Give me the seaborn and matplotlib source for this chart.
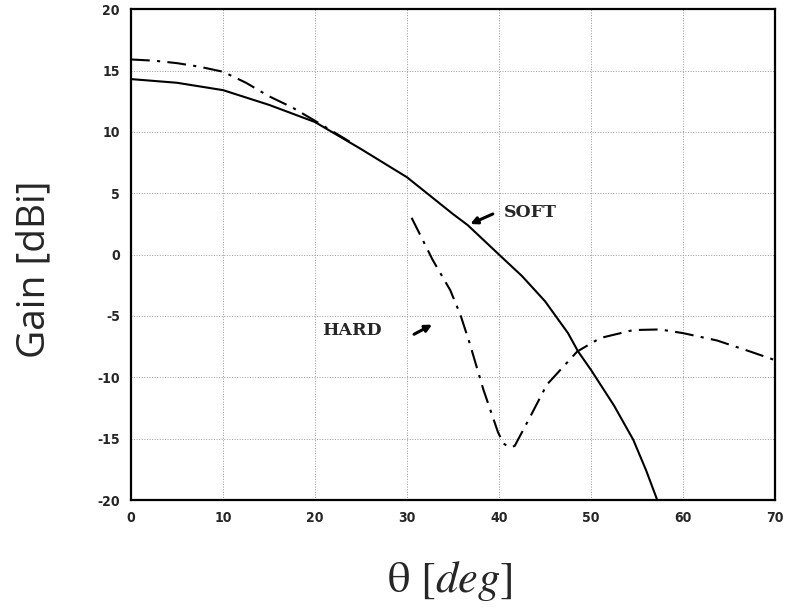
import pandas as pd
import matplotlib.pyplot as plt
import seaborn as sns

sns.set_style('white')
plt.rcParams['mathtext.fontset'] = 'stix'
plt.rcParams['axes.unicode_minus'] = False

# SOFT horn gain (solid)
soft_theta = [0, 5, 10, 15, 17.5, 20, 25, 30, 35, 36.6, 40, 42.5, 45, 47.5, 48.6,
              50, 52.5, 54.6, 56, 57.2]
soft_gain = [14.3, 14.0, 13.4, 12.2, 11.5, 10.8, 8.6, 6.3, 3.3, 2.4, 0.0, -1.75, -3.8,
             -6.4, -7.9, -9.4, -12.3, -15.1, -17.6, -20.0]

# HARD horn gain (dash-dot), two pieces
hard_theta_1 = [0, 2.5, 5, 7.5, 10, 12.5, 15, 17.5, 20, 22, 24]
hard_gain_1 = [15.9, 15.8, 15.6, 15.3, 14.9, 14.0, 12.9, 12.0, 10.9, 10.0, 9.1]
hard_theta_2 = [30.5, 32.8, 34.7, 35.8, 36.8, 38.3, 39.9, 40.5, 41.1, 41.7, 43.4, 45.2,
                48.5, 51, 54.6, 57.5, 60, 63.7, 67.3, 70]
hard_gain_2 = [3.0, -0.45, -2.9, -4.9, -7.2, -11.0, -14.5, -15.4, -15.7, -15.6, -13.2, -10.6,
               -7.9, -6.8, -6.15, -6.1, -6.4, -7.0, -7.9, -8.6]

x_ticks = [0, 10, 20, 30, 40, 50, 60, 70]
y_ticks = [-20, -15, -10, -5, 0, 5, 10, 15, 20]

soft = pd.DataFrame({'theta': soft_theta, 'gain': soft_gain})
hard = pd.DataFrame({
    'theta': hard_theta_1 + hard_theta_2,
    'gain': hard_gain_1 + hard_gain_2,
    'seg': [1] * len(hard_theta_1) + [2] * len(hard_theta_2),
})

fig = plt.figure(figsize=(7.86, 6.10), dpi=100)
ax = fig.add_axes([0.1667, 0.1803, 0.8193, 0.8047])

sns.lineplot(data=soft, x='theta', y='gain', color='black', lw=1.5, ax=ax)
sns.lineplot(data=hard, x='theta', y='gain', units='seg', estimator=None,
             color='black', lw=1.5, dashes=False, ax=ax)
ax.lines[-1].set_dashes([9, 3.5, 1.5, 3.5])
ax.lines[-2].set_dashes([9, 3.5, 1.5, 3.5])

ax.set_xlim(0, 70)
ax.set_ylim(-20, 20)
ax.set_xticks(x_ticks)
ax.set_yticks(y_ticks)
ax.grid(True, linestyle=':', color='#9a9a9a', linewidth=0.7)
for s in ax.spines.values():
    s.set_color('black')
    s.set_linewidth(1.6)
ax.tick_params(length=0, pad=8)
for lab in ax.get_xticklabels() + ax.get_yticklabels():
    lab.set_family('DejaVu Sans')
    lab.set_stretch('condensed')
    lab.set_weight('bold')
    lab.set_fontsize(10)

ax.set_ylabel('Gain [dBi]', fontsize=28, family='Open Sans')
ax.yaxis.set_label_coords(-0.12, 0.47)
ax.set_xlabel('θ [$deg$]', fontsize=32, family='STIXGeneral')
ax.xaxis.set_label_coords(0.495, -0.12)

# curve labels
ax.text(43.4, 3.4, 'SOFT', fontsize=12.5, weight='bold', family='DejaVu Serif',
        ha='center', va='center')
ax.annotate('', xy=(36.6, 2.4), xytext=(39.6, 3.4),
            arrowprops=dict(arrowstyle='-|>', color='black', lw=2.2, mutation_scale=10))
ax.text(24.0, -6.15, 'HARD', fontsize=12.5, weight='bold', family='DejaVu Serif',
        ha='center', va='center')
ax.annotate('', xy=(33.0, -5.6), xytext=(30.5, -6.6),
            arrowprops=dict(arrowstyle='-|>', color='black', lw=2.2, mutation_scale=10))

plt.savefig('out.png', dpi=100)
